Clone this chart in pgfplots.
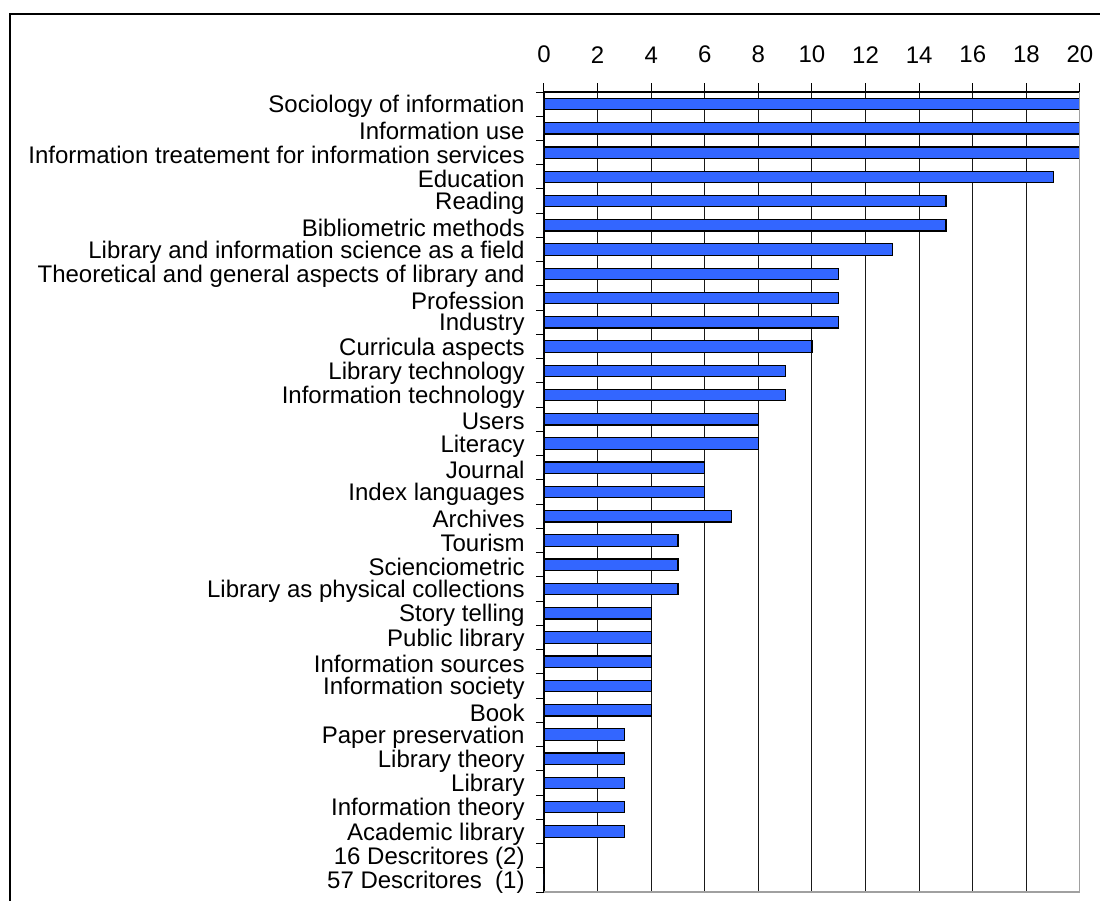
\documentclass[border=0pt]{standalone}
\usepackage{pgfplots}
\pgfplotsset{compat=1.18}
\usepackage{fontspec}
\setmainfont{Liberation Sans}
\definecolor{barblue}{RGB}{51,102,255}
\definecolor{edgegray}{RGB}{160,160,160}

\begin{document}
\begin{tikzpicture}
% page size
\useasboundingbox (0,0) rectangle (550pt,-450.5pt);
% outer chart frame
\draw[line width=0.7pt, black] (5pt,-470pt) -- (5pt,-7pt) -- (570pt,-7pt);

\begin{axis}[
  at={(272pt,-446pt)}, anchor=south west,
  scale only axis, width=268pt, height=400pt,
  xbar, bar width=5.7pt,
  xmin=0, xmax=20, ymin=0.5, ymax=33.5,
  y dir=reverse,
  axis x line*=top, axis y line*=left,
  axis line style={black, line width=0.6pt},
  tick align=outside,
  xtick={0,2,...,20},
  major tick length=4.5pt,
  minor tick length=4pt,
  every tick/.style={black, line width=0.5pt},
  every major y tick/.style={draw=none},
  xmajorgrids,
  major grid style={black!90, line width=0.5pt},
  ytick={1,...,33},
  minor ytick={0.5,1.5,...,33.5},
  /pgf/number format/assume math mode=true,
  xticklabel style={font=\fontsize{12}{13}\selectfont, inner sep=0pt, yshift=9.8pt},
  yticklabel style={font=\fontsize{12}{13}\selectfont, inner sep=0pt, xshift=-5pt, yshift=-1.2pt},
  yticklabels={
    {Sociology of information},
    {Information use},
    {Information treatement for information services},
    {Education\ },
    {Reading},
    {Bibliometric methods\ },
    {Library and information science as a field\ },
    {Theoretical and general aspects of library and},
    {Profession},
    {Industry\ },
    {Curricula aspects},
    {Library technology},
    {Information technology},
    {Users},
    {Literacy},
    {Journal},
    {Index languages},
    {Archives},
    {Tourism},
    {Scienciometric},
    {Library as physical collections},
    {Story telling},
    {Public library},
    {Information sources},
    {Information society},
    {Book},
    {Paper preservation},
    {Library theory},
    {Library},
    {Information theory},
    {Academic library},
    {16 Descritores (2)},
    {57 Descritores\ \ (1)}
  },
]
\addplot[fill=barblue, draw=black, line width=0.6pt] coordinates {
  (20,1) (20,2) (20,3) (19,4) (15,5) (15,6) (13,7) (11,8) (11,9) (11,10)
  (10,11) (9,12) (9,13) (8,14) (8,15) (6,16) (6,17) (7,18) (5,19) (5,20)
  (5,21) (4,22) (4,23) (4,24) (4,25) (4,26) (3,27) (3,28) (3,29) (3,30)
  (3,31) (0,32) (0,33)
};
% right and bottom edges of the plot area
\draw[edgegray, line width=0.8pt] (rel axis cs:1,0) -- (rel axis cs:1,1);
\draw[edgegray, line width=0.8pt] (rel axis cs:0,0) -- (rel axis cs:1,0);
\end{axis}
\end{tikzpicture}
\end{document}
